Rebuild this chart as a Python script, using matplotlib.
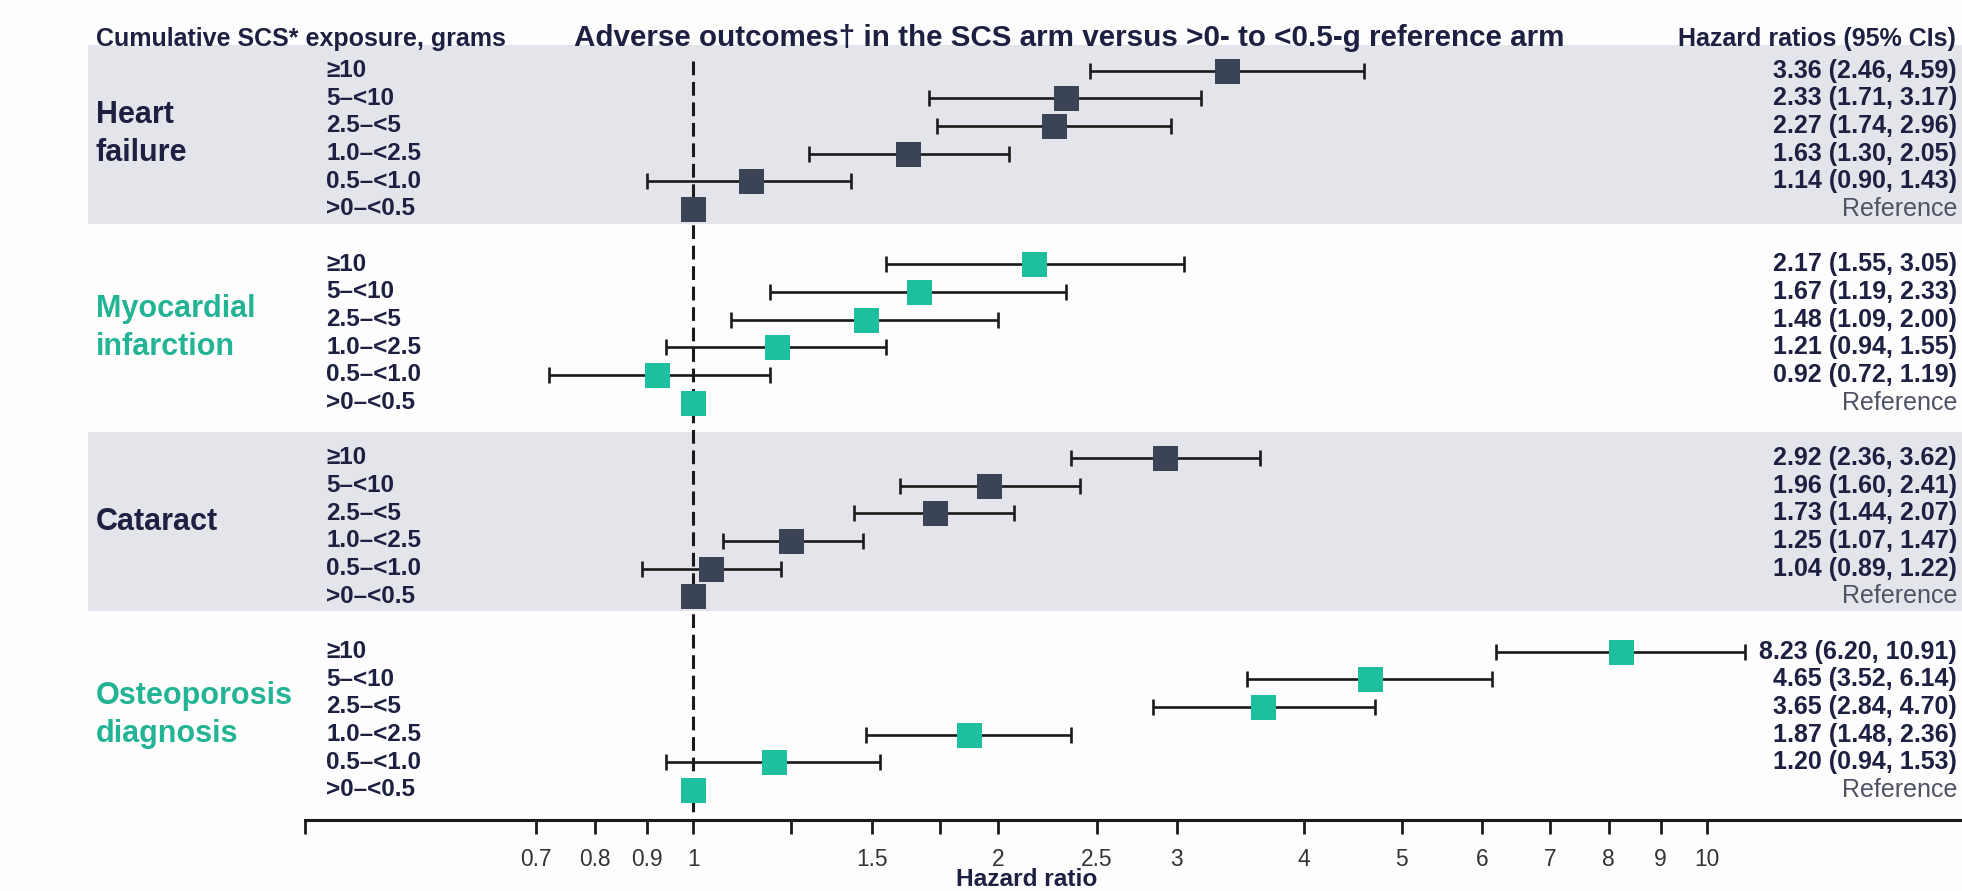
import numpy as np
import matplotlib
matplotlib.use("Agg")
import matplotlib.pyplot as plt
import matplotlib.font_manager as fm
from matplotlib.transforms import blended_transform_factory
from matplotlib.patches import Rectangle

# ---- data -------------------------------------------------------------
outcomes = ["Heart\nfailure", "Myocardial\ninfarction", "Cataract", "Osteoporosis\ndiagnosis"]
exposure_bands = ["≥10", "5–<10", "2.5–<5", "1.0–<2.5", "0.5–<1.0", ">0–<0.5"]

hf_hr = [3.36, 2.33, 2.27, 1.63, 1.14, 1.0]
hf_lo = [2.46, 1.71, 1.74, 1.30, 0.90, np.nan]
hf_hi = [4.59, 3.17, 2.96, 2.05, 1.43, np.nan]

mi_hr = [2.17, 1.67, 1.48, 1.21, 0.92, 1.0]
mi_lo = [1.55, 1.19, 1.09, 0.94, 0.72, np.nan]
mi_hi = [3.05, 2.33, 2.00, 1.55, 1.19, np.nan]

cat_hr = [2.92, 1.96, 1.73, 1.25, 1.04, 1.0]
cat_lo = [2.36, 1.60, 1.44, 1.07, 0.89, np.nan]
cat_hi = [3.62, 2.41, 2.07, 1.47, 1.22, np.nan]

ost_hr = [8.23, 4.65, 3.65, 1.87, 1.20, 1.0]
ost_lo = [6.20, 3.52, 2.84, 1.48, 0.94, np.nan]
ost_hi = [10.91, 6.14, 4.70, 2.36, 1.53, np.nan]

tick_values = [0.7, 0.8, 0.9, 1, 1.5, 2, 2.5, 3, 4, 5, 6, 7, 8, 9, 10]
minor_ticks = [0.414, 1.25, 1.75]

# ---- style --------------------------------------------------------------
NAVY_TXT = "#1e2042"
NAVY_SQ = "#3b4457"
TEAL_SQ = "#1dbf9f"
TEAL_TXT = "#22b494"
BAND = "#e4e5eb"
LINE = "#1a1a1a"

names = {f.name for f in fm.fontManager.ttflist}
if "Liberation Sans Narrow" in names:
    NARROW, nscale = "Liberation Sans Narrow", 1.0
else:
    NARROW, nscale = "Liberation Sans", 0.82
REG = "Liberation Sans"

W, H = 1962, 891
fig = plt.figure(figsize=(W / 100, H / 100), dpi=100)
fig.patch.set_facecolor("#fdfdfd")

ax_left, ax_right = 305, 1962
ax_top, ax_bot = 43, 820
ax = fig.add_axes([ax_left / W, 1 - ax_bot / H, (ax_right - ax_left) / W, (ax_bot - ax_top) / H])
ax.patch.set_visible(False)
ax.set_xscale("log")
ax.set_xlim(0.414, 17.85)
y_bottom = 27.09
ax.set_ylim(y_bottom, -1)

trans = blended_transform_factory(fig.transFigure, ax.transData)

series = [
    (hf_hr, hf_lo, hf_hi, NAVY_SQ, NAVY_TXT),
    (mi_hr, mi_lo, mi_hi, TEAL_SQ, TEAL_TXT),
    (cat_hr, cat_lo, cat_hi, NAVY_SQ, NAVY_TXT),
    (ost_hr, ost_lo, ost_hi, TEAL_SQ, TEAL_TXT),
]

# shaded bands behind alternate outcome blocks
for g in (0, 2):
    y0 = g * 7 - 0.92
    ax.add_patch(Rectangle((88 / W, y0), 1 - 88 / W, 6.45, transform=trans,
                           facecolor=BAND, edgecolor="none", zorder=0, clip_on=False))

# reference line at HR = 1
ax.plot([1, 1], [-0.35, y_bottom], color=LINE, lw=2.2, ls=(0, (4.5, 2.2)), zorder=2)

for g, (hr, lo, hi, sq_col, txt_col) in enumerate(series):
    rows = np.arange(6) + g * 7
    hr = np.asarray(hr); lo = np.asarray(lo); hi = np.asarray(hi)
    has_ci = ~np.isnan(lo)
    ax.errorbar(hr[has_ci], rows[has_ci],
                xerr=[hr[has_ci] - lo[has_ci], hi[has_ci] - hr[has_ci]],
                fmt="none", ecolor=LINE, elinewidth=1.9, capsize=5.5, capthick=1.9, zorder=3)
    ax.plot(hr, rows, ls="none", marker="s", markersize=18, color=sq_col,
            markeredgewidth=0, zorder=4)

    # outcome label
    ax.text(96 / W, g * 7 + 2.3, outcomes[g], transform=trans, ha="left", va="center",
            fontsize=22, fontweight="bold", color=txt_col, family=REG, linespacing=1.33)

    for r in range(6):
        ax.text(326 / W, rows[r], exposure_bands[r], transform=trans, ha="left", va="center",
                fontsize=17.5, fontweight="bold", color=NAVY_TXT, family=[REG, "DejaVu Sans"])
        if has_ci[r]:
            lbl = f"{hr[r]:.2f} ({lo[r]:.2f}, {hi[r]:.2f})"
            ax.text(1957 / W, rows[r], lbl, transform=trans, ha="right", va="center",
                    fontsize=18, fontweight="bold", color=NAVY_TXT, family=REG)
        else:
            ax.text(1957 / W, rows[r], "Reference", transform=trans, ha="right", va="center",
                    fontsize=18, color="#4f5263", family=REG)

# header row
hy = 1 - 46 / H
fig.text(96 / W, hy, "Cumulative SCS* exposure, grams", ha="left", va="baseline",
         fontsize=22 * nscale, fontweight="bold", color=NAVY_TXT, family=NARROW)
fig.text(1069 / W, hy, "Adverse outcomes† in the SCS arm versus >0- to <0.5-g reference arm",
         ha="center", va="baseline", fontsize=26 * nscale, fontweight="bold", color=NAVY_TXT,
         family=[NARROW, "DejaVu Sans"])
fig.text(1956 / W, hy, "Hazard ratios (95% CIs)", ha="right", va="baseline",
         fontsize=22 * nscale, fontweight="bold", color=NAVY_TXT, family=NARROW)

# x axis
for side in ("left", "right", "top"):
    ax.spines[side].set_visible(False)
ax.spines["bottom"].set_linewidth(2.2)
ax.spines["bottom"].set_color(LINE)
ax.set_yticks([])
ax.set_xticks(tick_values)
ax.set_xticklabels([f"{v:g}" for v in tick_values])
ax.set_xticks(minor_ticks, minor=True)
ax.xaxis.set_minor_formatter(plt.NullFormatter())
ax.tick_params(axis="x", which="both", direction="out", length=10, width=2, color=LINE,
               pad=10, labelsize=20 * nscale, labelcolor="#333333")
for t in ax.get_xticklabels():
    t.set_family(NARROW)
ax.set_xlabel("")
fig.text(1027 / W, 1 - 880 / H, "Hazard ratio", ha="center", va="center",
         fontsize=21.5 * nscale, fontweight="bold", color=NAVY_TXT, family=NARROW)

fig.savefig("out.png", dpi=100, facecolor=fig.get_facecolor())
